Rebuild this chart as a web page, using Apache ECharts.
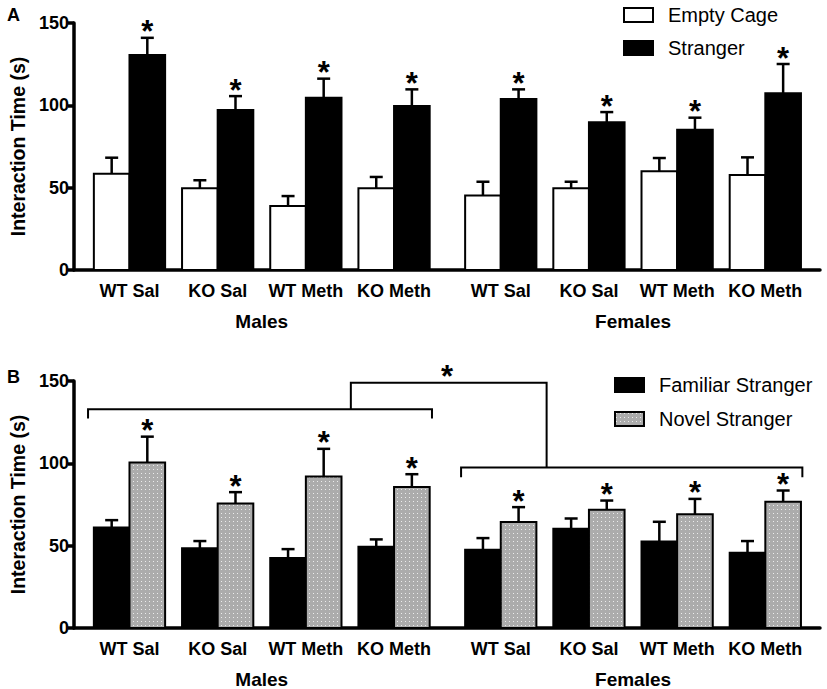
<!DOCTYPE html>
<html>
<head>
<meta charset="utf-8">
<script src="https://cdn.jsdelivr.net/npm/echarts@6/dist/echarts.min.js"></script>
<style>
html,body{margin:0;padding:0;background:#fff;}
#c{width:827px;height:689px;}
</style>
</head>
<body>
<div id="c"></div>
<script>
// ---------- data ----------
const groups = ['WT Sal', 'KO Sal', 'WT Meth', 'KO Meth', 'WT Sal', 'KO Sal', 'WT Meth', 'KO Meth'];
const sexes = ['Males', 'Females'];
const yTicks = [0, 50, 100, 150];

// Panel A
const emptyCage    = [58.5, 49.6, 38.9, 49.6, 45.3, 49.6, 59.9, 57.7];
const emptyCageSem = [9.7, 4.9, 6.0, 6.9, 8.3, 4.0, 8.1, 10.7];
const emptyCageSig = [0, 0, 0, 0, 0, 0, 0, 0];
const stranger     = [130.5, 97.1, 104.6, 99.6, 103.8, 89.7, 85.2, 107.3];
const strangerSem  = [10.5, 8.5, 11.6, 10.1, 5.9, 6.2, 7.3, 17.8];
const strangerSig  = [1, 1, 1, 1, 1, 1, 1, 1];

// Panel B
const familiar     = [61.0, 48.5, 42.5, 49.3, 47.5, 60.2, 52.6, 45.7];
const familiarSem  = [4.5, 4.3, 5.4, 4.5, 7.1, 6.3, 11.9, 7.1];
const familiarSig  = [0, 0, 0, 0, 0, 0, 0, 0];
const novel        = [100.5, 75.6, 92.0, 85.7, 64.3, 71.8, 69.1, 76.6];
const novelSem     = [15.7, 6.9, 16.8, 7.7, 9.1, 5.6, 9.3, 6.9];
const novelSig     = [1, 1, 1, 1, 1, 1, 1, 1];

// ---------- layout helpers ----------
const X_MAX = 8.46;
const BAR_W = 0.404;
function groupX(i) { return i < 4 ? 0.63 + i : 4.84 + (i - 4); }
const groupCenters = groups.map((g, i) => groupX(i));
const sexCenters = [(groupX(0) + groupX(3)) / 2, (groupX(4) + groupX(7)) / 2];
const FONT = 'Liberation Sans, Arial, Helvetica, sans-serif';

// dotted grey pattern
function makePattern() {
  const cv = document.createElement('canvas');
  cv.width = 4; cv.height = 4;
  const ctx = cv.getContext('2d');
  ctx.fillStyle = '#acacac';
  ctx.fillRect(0, 0, 4, 4);
  ctx.fillStyle = '#ececec';
  ctx.fillRect(1, 1, 1, 1);
  return cv.toDataURL();
}
const dotFill = { image: makePattern(), repeat: 'repeat' };

function nearestIdx(arr, v) {
  let best = 0;
  arr.forEach((a, i) => { if (Math.abs(a - v) < Math.abs(arr[best] - v)) best = i; });
  return best;
}

function buildData(means, sems, sigs) {
  return means.map((m, i) => [groupX(i), m, sems[i], sigs[i]]);
}

function barRenderer(side, fill, stroke) {
  return function (params, api) {
    const gx = api.value(0), m = api.value(1), s = api.value(2), sig = api.value(3);
    const cx = gx + side * BAR_W / 2;
    const pL = api.coord([cx - BAR_W / 2, 0]);
    const pR = api.coord([cx + BAR_W / 2, m]);
    const pTop = api.coord([cx, m]);
    const pCap = api.coord([cx, m + s]);
    const children = [
      { type: 'rect', shape: { x: pL[0], y: pR[1], width: pR[0] - pL[0], height: pL[1] - pR[1] },
        style: { fill: fill, stroke: stroke, lineWidth: 2 } },
      { type: 'line', shape: { x1: pTop[0], y1: pTop[1], x2: pCap[0], y2: pCap[1] },
        style: { stroke: '#000', lineWidth: 2.5 } },
      { type: 'line', shape: { x1: pCap[0] - 6.5, y1: pCap[1], x2: pCap[0] + 6.5, y2: pCap[1] },
        style: { stroke: '#000', lineWidth: 2.5 } }
    ];
    if (sig) {
      children.push({ type: 'text', style: { text: '*', x: pCap[0], y: pCap[1] - 6, align: 'center',
        verticalAlign: 'middle', font: 'bold 31px ' + FONT, fill: '#000' } });
    }
    return { type: 'group', children: children };
  };
}

function bracketRenderer(params, api) {
  const c = (x, y) => api.coord([x, y]);
  const st = { stroke: '#000', lineWidth: 2, fill: null };
  const mL = groupX(0) - 0.47, mR = groupX(3) + 0.43;
  const fL = groupX(4) - 0.45, fR = groupX(7) + 0.42;
  const mY = 132.8, mTick = 127.3, topY = 148.9, fY = 97.4, fTick = 91.6;
  const linkL = 3.14, linkR = 5.36;
  const pts1 = [c(mL, mTick), c(mL, mY), c(mR, mY), c(mR, mTick)];
  const pts2 = [c(fL, fTick), c(fL, fY), c(fR, fY), c(fR, fTick)];
  const pts3 = [c(linkL, mY), c(linkL, topY), c(linkR, topY), c(linkR, fY)];
  const star = c(4.23, 156.2);
  return { type: 'group', children: [
    { type: 'polyline', shape: { points: pts1 }, style: st },
    { type: 'polyline', shape: { points: pts2 }, style: st },
    { type: 'polyline', shape: { points: pts3 }, style: st },
    { type: 'text', style: { text: '*', x: star[0], y: star[1] + 6, align: 'center', verticalAlign: 'middle',
      font: 'bold 31px ' + FONT, fill: '#000' } }
  ] };
}

const grids = [
  { left: 73, top: 23, width: 747, height: 247 },
  { left: 73, top: 381, width: 747, height: 247 }
];

function makeXAxes(gi) {
  return [
    { gridIndex: gi, type: 'value', min: 0, max: X_MAX, position: 'bottom',
      axisLine: { show: true, lineStyle: { color: '#000', width: 3.5 } },
      axisTick: { show: false }, splitLine: { show: false },
      axisLabel: { show: true, customValues: groupCenters, margin: 12,
        formatter: v => groups[nearestIdx(groupCenters, v)],
        color: '#000', fontSize: 18, fontWeight: 'bold', fontFamily: FONT } },
    { gridIndex: gi, type: 'value', min: 0, max: X_MAX, position: 'bottom',
      axisLine: { show: false }, axisTick: { show: false }, splitLine: { show: false },
      axisLabel: { show: true, customValues: sexCenters, margin: 42,
        formatter: v => sexes[nearestIdx(sexCenters, v)],
        color: '#000', fontSize: 19, fontWeight: 'bold', fontFamily: FONT } }
  ];
}

function makeYAxis(gi) {
  return { gridIndex: gi, type: 'value', min: yTicks[0], max: yTicks[yTicks.length - 1], interval: 50,
    name: 'Interaction Time (s)', nameLocation: 'middle', nameGap: 45,
    nameTextStyle: { color: '#000', fontSize: 19.5, fontWeight: 'bold', fontFamily: FONT },
    axisLine: { show: true, lineStyle: { color: '#000', width: 3.5 } },
    axisTick: { show: true, length: 6, lineStyle: { color: '#000', width: 3.5 } },
    splitLine: { show: false },
    axisLabel: { color: '#000', fontSize: 18, fontWeight: 'bold', fontFamily: FONT, margin: 5 } };
}

const legendText = { color: '#000', fontSize: 20, fontFamily: FONT, padding: [0, 0, 0, 10] };

const option = {
  backgroundColor: '#fff',
  animation: false,
  grid: grids,
  xAxis: [].concat(makeXAxes(0), makeXAxes(1)),
  yAxis: [makeYAxis(0), makeYAxis(1)],
  legend: [
    { left: 623, top: 5, padding: 0, orient: 'vertical', itemWidth: 29, itemHeight: 14, itemGap: 13,
      selectedMode: false, textStyle: legendText,
      data: [
        { name: 'Empty Cage', icon: 'rect', itemStyle: { color: '#fff', borderColor: '#000', borderWidth: 2 } },
        { name: 'Stranger', icon: 'rect', itemStyle: { color: '#000', borderColor: '#000', borderWidth: 2 } }
      ] },
    { left: 614, top: 375, padding: 0, orient: 'vertical', itemWidth: 29, itemHeight: 14, itemGap: 14,
      selectedMode: false, textStyle: legendText,
      data: [
        { name: 'Familiar Stranger', icon: 'rect', itemStyle: { color: '#000', borderColor: '#000', borderWidth: 2 } },
        { name: 'Novel Stranger', icon: 'rect', itemStyle: { color: dotFill, borderColor: '#000', borderWidth: 2 } }
      ] }
  ],
  graphic: [
    { type: 'text', left: 7, top: 6, style: { text: 'A', font: 'bold 18px ' + FONT, fill: '#000' } },
    { type: 'text', left: 7, top: 368, style: { text: 'B', font: 'bold 18px ' + FONT, fill: '#000' } }
  ],
  series: [
    { name: 'Empty Cage', type: 'custom', xAxisIndex: 0, yAxisIndex: 0, clip: false,
      itemStyle: { color: '#fff', borderColor: '#000' },
      encode: { x: 0, y: 1 }, data: buildData(emptyCage, emptyCageSem, emptyCageSig),
      renderItem: barRenderer(-1, '#fff', '#000') },
    { name: 'Stranger', type: 'custom', xAxisIndex: 0, yAxisIndex: 0, clip: false,
      itemStyle: { color: '#000' },
      encode: { x: 0, y: 1 }, data: buildData(stranger, strangerSem, strangerSig),
      renderItem: barRenderer(1, '#000', '#000') },
    { name: 'Familiar Stranger', type: 'custom', xAxisIndex: 2, yAxisIndex: 1, clip: false,
      itemStyle: { color: '#000' },
      encode: { x: 0, y: 1 }, data: buildData(familiar, familiarSem, familiarSig),
      renderItem: barRenderer(-1, '#000', '#000') },
    { name: 'Novel Stranger', type: 'custom', xAxisIndex: 2, yAxisIndex: 1, clip: false,
      itemStyle: { color: '#acacac' },
      encode: { x: 0, y: 1 }, data: buildData(novel, novelSem, novelSig),
      renderItem: barRenderer(1, dotFill, '#000') },
    { name: 'brackets', type: 'custom', xAxisIndex: 2, yAxisIndex: 1, clip: false, silent: true,
      data: [[0, 0]], encode: { x: 0, y: 1 }, renderItem: bracketRenderer }
  ]
};

const chart = echarts.init(document.getElementById('c'), null, { renderer: 'svg' });
chart.setOption(option);
</script>
</body>
</html>
